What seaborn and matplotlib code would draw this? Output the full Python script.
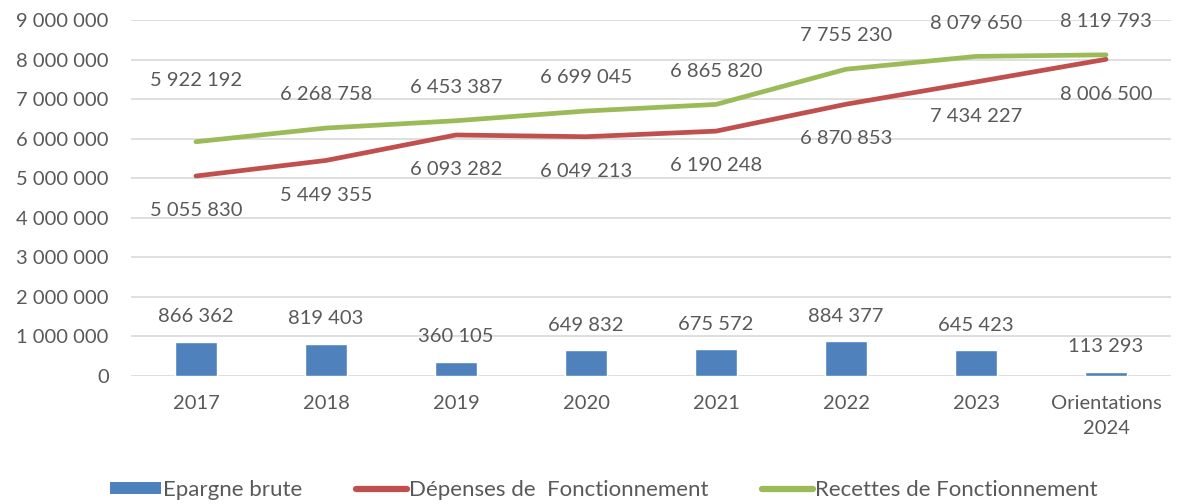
import matplotlib
matplotlib.use("Agg")
import matplotlib.pyplot as plt
import seaborn as sns
import pandas as pd
from matplotlib.ticker import FuncFormatter
from matplotlib.patches import Patch
from matplotlib.lines import Line2D

categories = ["2017", "2018", "2019", "2020", "2021", "2022", "2023", "Orientations\n2024"]
epargne = [866362, 819403, 360105, 649832, 675572, 884377, 645423, 113293]
depenses = [5055830, 5449355, 6093282, 6049213, 6190248, 6870853, 7434227, 8006500]
recettes = [5922192, 6268758, 6453387, 6699045, 6865820, 7755230, 8079650, 8119793]

blue = "#4F81BD"
red = "#C0504D"
green = "#9BBB59"
grey = "#595959"

sns.set_theme(style="white")
plt.rcParams["font.family"] = ["Lato", "DejaVu Sans"]
plt.rcParams["font.size"] = 14.5

df = pd.DataFrame({"cat": categories, "epargne": epargne,
                   "depenses": depenses, "recettes": recettes})

fig = plt.figure(figsize=(11.84, 5.04), dpi=100)
ax = fig.add_axes([131 / 1184, 1 - 376 / 504, 1040 / 1184, 356 / 504])

sns.barplot(data=df, x="cat", y="epargne", color=blue, width=0.32,
            saturation=1, ax=ax, zorder=3)
sns.pointplot(data=df, x="cat", y="depenses", color=red, markers="",
              linewidth=3.4, ax=ax, zorder=4)
sns.pointplot(data=df, x="cat", y="recettes", color=green, markers="",
              linewidth=3.4, ax=ax, zorder=5)

fmt = lambda v: f"{int(round(v)):,}".replace(",", " ")

for i, v in enumerate(epargne):
    ax.annotate(fmt(v), (i, v), xytext=(0, 18), textcoords="offset points",
                ha="center", va="center", color=grey, fontsize=14.5)
for i, v in enumerate(depenses):
    ax.annotate(fmt(v), (i, v), xytext=(0, -25), textcoords="offset points",
                ha="center", va="center", color=grey, fontsize=14.5)
for i, v in enumerate(recettes):
    dy = 44 if i == 0 else 24
    ax.annotate(fmt(v), (i, v), xytext=(0, dy), textcoords="offset points",
                ha="center", va="center", color=grey, fontsize=14.5)

ax.set_ylim(0, 9000000)
ax.set_xlim(-0.5, 7.5)
ax.set_yticks(range(0, 9000001, 1000000))
ax.yaxis.set_major_formatter(FuncFormatter(lambda v, p: fmt(v)))
ax.grid(axis="y", color="#D9D9D9", linewidth=1.2, zorder=0)
ax.set_axisbelow(True)
ax.tick_params(axis="both", length=0, colors=grey, labelsize=14.5)
ax.tick_params(axis="y", pad=16)
ax.tick_params(axis="x", pad=14)
for lab in ax.get_xticklabels():
    lab.set_linespacing(1.55)
ax.set_xlabel("")
ax.set_ylabel("")
sns.despine(ax=ax, left=True, bottom=True)

handles = [Patch(facecolor=blue, edgecolor="none"),
           Line2D([], [], color=red, linewidth=4.5, solid_capstyle="round"),
           Line2D([], [], color=green, linewidth=4.5, solid_capstyle="round")]
labels = ["Epargne brute", "Dépenses de  Fonctionnement", "Recettes de Fonctionnement"]
fig.legend(handles, labels, loc="center", bbox_to_anchor=(0.51, 1 - 490 / 504),
           ncol=3, frameon=False, fontsize=16, labelcolor=grey,
           handlelength=2.3, handleheight=0.5, handletextpad=0.1, columnspacing=2.4)

fig.savefig("out.png", dpi=100)
